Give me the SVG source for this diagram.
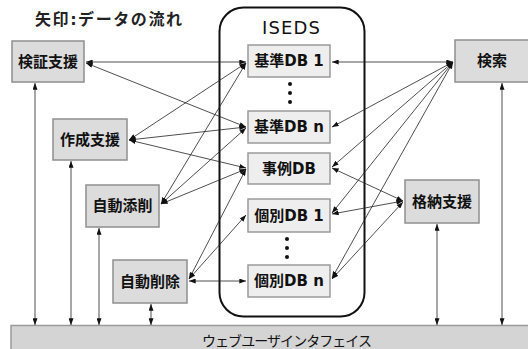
<svg xmlns="http://www.w3.org/2000/svg" width="528" height="349" viewBox="0 0 528 349">
<style>
.node{fill:#dcdcdc;stroke:#8f8f8f;stroke-width:1.5}
.db{fill:#eeeeee;stroke:#9a9a9a;stroke-width:1.5}
.bar{fill:#d4d4d4;stroke:#9a9a9a;stroke-width:1.5}
.lbl{font-family:"DejaVu Sans","Noto Sans CJK JP",sans-serif;font-weight:bold;font-size:15px;fill:#111;text-anchor:middle;dominant-baseline:central}
.con line{stroke:#222;stroke-width:0.8;marker-start:url(#ah);marker-end:url(#ah)}
.dot{fill:#111}
</style>
<defs>
<marker id="ah" viewBox="0 0 8 6" refX="8" refY="3" markerWidth="7" markerHeight="5" markerUnits="userSpaceOnUse" orient="auto-start-reverse">
<path d="M0,0 L8,3 L0,6 z" fill="#111"/>
</marker>
</defs>
<rect width="528" height="349" fill="#ffffff"/>
<text x="35" y="25" style="font-family:'DejaVu Sans','Noto Sans CJK JP',sans-serif;font-weight:bold;font-size:16px;fill:#222" textLength="147">矢印:データの流れ</text>

<g id="iseds">
<rect x="219.5" y="7.5" width="145" height="309" rx="24" ry="24" fill="none" stroke="#111" stroke-width="2"/>
<text x="291" y="27" textLength="58" style="font-family:'DejaVu Sans',sans-serif;font-size:18px;fill:#111;text-anchor:middle;dominant-baseline:central">ISEDS</text>
</g>

<g id="bar">
<rect class="bar" x="11" y="325.5" width="530" height="30"/>
<text x="287" y="340" textLength="170" style="font-family:'Noto Sans CJK JP',sans-serif;font-size:14px;fill:#111;text-anchor:middle;dominant-baseline:central">ウェブユーザインタフェイス</text>
</g>

<g id="connectors" class="con">
<line x1="86" y1="62" x2="246" y2="62"/>
<line x1="86" y1="63" x2="246" y2="127"/>
<line x1="129" y1="140" x2="246" y2="63"/>
<line x1="129" y1="140" x2="246" y2="127"/>
<line x1="129" y1="140" x2="246" y2="168"/>
<line x1="161" y1="204" x2="246" y2="63"/>
<line x1="161" y1="204" x2="246" y2="128"/>
<line x1="161" y1="204" x2="246" y2="169"/>
<line x1="189" y1="279" x2="246" y2="169"/>
<line x1="189" y1="279" x2="246" y2="215"/>
<line x1="189" y1="281" x2="246" y2="281"/>
<line x1="453" y1="62" x2="332" y2="62"/>
<line x1="453" y1="62" x2="332" y2="127"/>
<line x1="453" y1="62" x2="332" y2="167"/>
<line x1="453" y1="62" x2="332" y2="213"/>
<line x1="453" y1="62" x2="332" y2="278"/>
<line x1="403" y1="201" x2="332" y2="168"/>
<line x1="403" y1="201" x2="332" y2="214"/>
<line x1="403" y1="202" x2="332" y2="279"/>
<line x1="35" y1="83" x2="35" y2="325"/>
<line x1="71" y1="161" x2="71" y2="325"/>
<line x1="99" y1="228" x2="99" y2="325"/>
<line x1="151" y1="304" x2="151" y2="325"/>
<line x1="437" y1="224" x2="437" y2="325"/>
<line x1="502" y1="83" x2="502" y2="325"/>
</g>

<g id="kensho"><rect class="node" x="12" y="41" width="72" height="41"/><text class="lbl" x="48" y="61.5">検証支援</text></g>
<g id="sakusei"><rect class="node" x="53" y="119" width="74" height="41"/><text class="lbl" x="90" y="139.5">作成支援</text></g>
<g id="tensaku"><rect class="node" x="86" y="185" width="73" height="42"/><text class="lbl" x="122.5" y="206">自動添削</text></g>
<g id="sakujo"><rect class="node" x="113" y="260" width="74" height="43"/><text class="lbl" x="150" y="281.5">自動削除</text></g>
<g id="kensaku"><rect class="node" x="455" y="40" width="76" height="42"/><text class="lbl" x="492" y="61">検索</text></g>
<g id="kakuno"><rect class="node" x="405" y="180" width="74" height="43"/><text class="lbl" x="442" y="201.5">格納支援</text></g>

<g id="kijun1"><rect class="db" x="248" y="45" width="82" height="32"/><text class="lbl" x="289" y="61">基準DB 1</text></g>
<g id="dots1"><circle class="dot" cx="290" cy="84" r="2"/><circle class="dot" cx="290" cy="93" r="2"/><circle class="dot" cx="290" cy="102" r="2"/></g>
<g id="kijunn"><rect class="db" x="248" y="111" width="82" height="32"/><text class="lbl" x="289" y="127">基準DB n</text></g>
<g id="jirei"><rect class="db" x="248" y="153" width="82" height="31"/><text class="lbl" x="289" y="168.5">事例DB</text></g>
<g id="kobetsu1"><rect class="db" x="248" y="199" width="82" height="33"/><text class="lbl" x="289" y="215.5">個別DB 1</text></g>
<g id="dots2"><circle class="dot" cx="287" cy="239" r="2"/><circle class="dot" cx="287" cy="248" r="2"/><circle class="dot" cx="287" cy="257" r="2"/></g>
<g id="kobetsun"><rect class="db" x="248" y="265" width="82" height="32"/><text class="lbl" x="289" y="281">個別DB n</text></g>
</svg>
